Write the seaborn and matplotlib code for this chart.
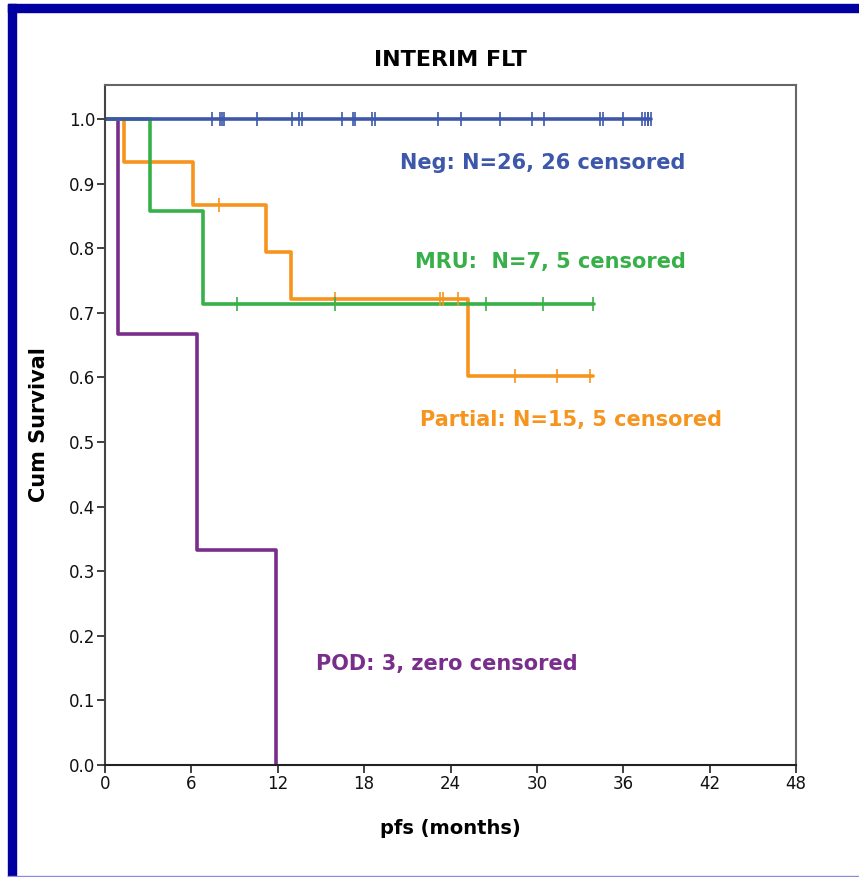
import numpy as np
import pandas as pd
import matplotlib
matplotlib.use("Agg")
import matplotlib.pyplot as plt
import seaborn as sns
from matplotlib.patches import Rectangle

# ---- data ----
groups = ["Neg", "MRU", "Partial", "POD"]
neg_t = [0, 37.9]
neg_s = [1.0, 1.0]
mru_t = [0, 3.1, 6.8, 34.0]
mru_s = [1.0, 0.857, 0.714, 0.714]
par_t = [0, 1.35, 6.1, 11.2, 12.95, 25.2, 33.9]
par_s = [1.0, 0.933, 0.867, 0.794, 0.722, 0.602, 0.602]
pod_t = [0, 0.9, 6.4, 11.9]
pod_s = [1.0, 0.667, 0.333, 0.0]

neg_cens_t = [7.41, 7.99, 8.13, 8.27, 10.54, 12.97, 13.48, 13.69, 16.44, 17.21, 17.37,
              18.53, 18.76, 23.15, 24.71, 27.44, 29.64, 30.50, 34.38, 34.57, 35.96,
              37.28, 37.51, 37.74, 37.74, 37.9]
neg_cens_s = [1.0] * len(neg_cens_t)
mru_cens_t = [9.15, 16.0, 26.5, 30.45, 33.9]
mru_cens_s = [0.714] * len(mru_cens_t)
par_cens_t = [7.9, 16.0, 23.3, 23.5, 24.5, 28.5, 31.4, 33.7]
par_cens_s = [0.867, 0.722, 0.722, 0.722, 0.722, 0.602, 0.602, 0.602]

labels = ["Neg: N=26, 26 censored", "MRU:  N=7, 5 censored",
          "Partial: N=15, 5 censored", "POD: 3, zero censored"]
x_ticks = [0, 6, 12, 18, 24, 30, 36, 42, 48]
y_ticks = [0.0, 0.1, 0.2, 0.3, 0.4, 0.5, 0.6, 0.7, 0.8, 0.9, 1.0]

colors = {"Neg": "#3D58AA", "MRU": "#38B04A", "Partial": "#F7941E", "POD": "#7A2E8C"}

curves = pd.DataFrame({
    "group": ["Neg"] * len(neg_t) + ["MRU"] * len(mru_t) + ["Partial"] * len(par_t) + ["POD"] * len(pod_t),
    "time": neg_t + mru_t + par_t + pod_t,
    "surv": neg_s + mru_s + par_s + pod_s,
})
cens = pd.DataFrame({
    "group": ["Neg"] * len(neg_cens_t) + ["MRU"] * len(mru_cens_t) + ["Partial"] * len(par_cens_t),
    "time": neg_cens_t + mru_cens_t + par_cens_t,
    "surv": neg_cens_s + mru_cens_s + par_cens_s,
})

sns.set_style("white")
plt.rcParams["font.family"] = ["DejaVu Sans"]
plt.rcParams["text.color"] = "black"
plt.rcParams["axes.labelcolor"] = "black"
plt.rcParams["xtick.color"] = "#333333"
plt.rcParams["ytick.color"] = "#333333"
plt.rcParams["xtick.labelcolor"] = "#111111"
plt.rcParams["ytick.labelcolor"] = "#111111"

fig = plt.figure(figsize=(8.59, 8.77), dpi=100)
ax = fig.add_axes([105 / 859, 1 - 765 / 877, (796 - 105) / 859, (765 - 85) / 877])

for g in ["POD", "Partial", "MRU", "Neg"]:
    sub = curves[curves.group == g]
    sns.lineplot(data=sub, x="time", y="surv", color=colors[g], drawstyle="steps-post",
                 estimator=None, sort=False, linewidth=2.6, ax=ax, legend=False)
for g in ["Partial", "MRU", "Neg"]:
    sub = cens[cens.group == g]
    sns.scatterplot(data=sub, x="time", y="surv", color=colors[g], marker="|", s=110,
                    linewidth=1.2, ax=ax, legend=False, zorder=5)

ax.set_xlim(0, 48)
ax.set_ylim(0, 1.0 + 34 / 646)
ax.set_xticks(x_ticks)
ax.set_xticklabels([str(v) for v in x_ticks], fontsize=12)
ax.set_yticks(y_ticks)
ax.set_yticklabels([f"{v:.1f}" for v in y_ticks], fontsize=12)
ax.tick_params(axis="both", direction="out", length=6, width=1.3,
               bottom=True, left=True, pad=1)
for sp in ax.spines.values():
    sp.set_color("#666666")
    sp.set_linewidth(1.5)
ax.spines["bottom"].set_color("#222222")
ax.spines["left"].set_color("#444444")

ax.set_xlabel("pfs (months)", fontsize=14, fontweight="bold", labelpad=19, color="black")
ax.set_ylabel("Cum Survival", fontsize=15, fontweight="bold", labelpad=14, color="black")
ax.set_title("INTERIM FLT", fontsize=16, fontweight="bold", pad=14, color="black")

text_pos = [(20.5, 0.932), (21.5, 0.779), (21.9, 0.534), (14.65, 0.156)]
for g, lab, (tx, ty) in zip(groups, labels, text_pos):
    ax.text(tx, ty, lab, color=colors[g], fontsize=15, fontweight="bold",
            ha="left", va="center")

# outer frame like the reference screenshot
fig.patches.append(Rectangle((8 / 859, 0), 8 / 859, 1 - 4 / 877, transform=fig.transFigure,
                             color="#0000A0", zorder=10))
fig.patches.append(Rectangle((8 / 859, 1 - 12 / 877), 1, 8 / 877, transform=fig.transFigure,
                             color="#0000A0", zorder=10))
fig.patches.append(Rectangle((8 / 859, 0), 1, 1.5 / 877, transform=fig.transFigure,
                             color="#8A8AE0", zorder=10))

fig.savefig("out.png", dpi=100)
